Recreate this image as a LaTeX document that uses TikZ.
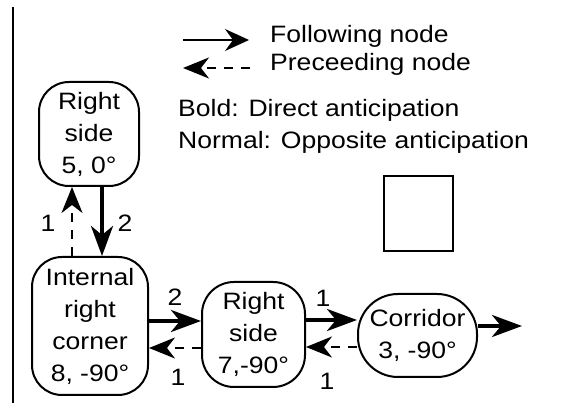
\documentclass[tikz,border=0pt]{standalone}
\usepackage{fontspec}
\setmainfont{Liberation Sans}[FakeStretch=1.12]
\usetikzlibrary{arrows.meta,calc}
\tikzset{
  state/.style={draw=black, line width=2pt, rounded corners=30pt, inner sep=0pt,
    align=center, font=\fontsize{23.7}{32}\selectfont},
  txt/.style={inner sep=0pt, font=\fontsize{23.7}{32}\selectfont},
  follow/.style={line width=4pt, -{Stealth[length=30pt, width=22pt, inset=9pt]}},
  precede/.style={line width=2pt, dash pattern=on 9pt off 8pt,
    -{Stealth[length=26pt, width=21pt, inset=8pt]}},
  legfollow/.style={line width=2pt, -{Stealth[length=24pt, width=22pt, inset=8pt]}},
}
\begin{document}
\begin{tikzpicture}[x=1pt, y=-1pt]
\useasboundingbox (0,0) rectangle (566,406);

% left margin rule
\draw[line width=2pt] (12.5,7) -- (12.5,403);

% states
\node[state, minimum width=100pt, minimum height=104pt] (rs5) at (89,134) {Right\\side\\5, 0°};
\node[state, minimum width=116pt, minimum height=138pt] (irc) at (90,326) {Internal\\right\\corner\\8, -90°};
\node[state, minimum width=103pt, minimum height=105pt, rounded corners=32pt] (rs7) at (253.5,334.5) {Right\\side\\7,-90°};
\node[state, minimum width=119pt, minimum height=83pt, rounded corners=40pt] (cor) at (417.5,335.5) {Corridor\\3, -90°};

% empty box
\draw[line width=2pt] (384,176) rectangle (453,251);

% legend
\coordinate (lf0) at (183,40);
\coordinate (lf1) at (249,40);
\coordinate (lp0) at (250,68);
\coordinate (lp1) at (183,68);
\draw[legfollow] (lf0) -- (lf1);
\draw[precede] (lp0) -- (lp1);
\node[txt, anchor=base west] (lgf) at (270,43) {Following node};
\node[txt, anchor=base west] (lgp) at (270,71) {Preceeding node};
\node[txt, anchor=base west] (lgb) at (178,117) {Bold: Direct anticipation};
\node[txt, anchor=base west] (lgn) at (178,149) {Normal: Opposite anticipation};

% vertical pair between rs5 and irc
\coordinate (vd) at (72,0);
\coordinate (vb) at (102,0);
\draw[precede] (vd |- irc.north) -- (vd |- rs5.south);
\draw[follow] (vb |- rs5.south) -- (vb |- irc.north);

% horizontal levels
\coordinate (hb1) at (0,321);
\coordinate (hd1) at (0,348);
\coordinate (hb2) at (0,320);
\coordinate (hd2) at (0,347);
\coordinate (hb3) at (0,326);
\coordinate (out) at (522,326);

\draw[follow] (irc.east |- hb1) -- (rs7.west |- hb1);
\draw[precede] (rs7.west |- hd1) -- (irc.east |- hd1);
\draw[follow] (rs7.east |- hb2) -- (cor.west |- hb2);
\draw[precede] (cor.west |- hd2) -- (rs7.east |- hd2);
\draw[follow] (cor.east |- hb3) -- (out);

% edge labels
\node[txt] (l1) at (48,223) {1};
\node[txt] (l2) at (125,223) {2};
\node[txt] (l3) at (175,297) {2};
\node[txt] (l4) at (178,377) {1};
\node[txt] (l5) at (323,298) {1};
\node[txt] (l6) at (327,381) {1};
\end{tikzpicture}
\end{document}
